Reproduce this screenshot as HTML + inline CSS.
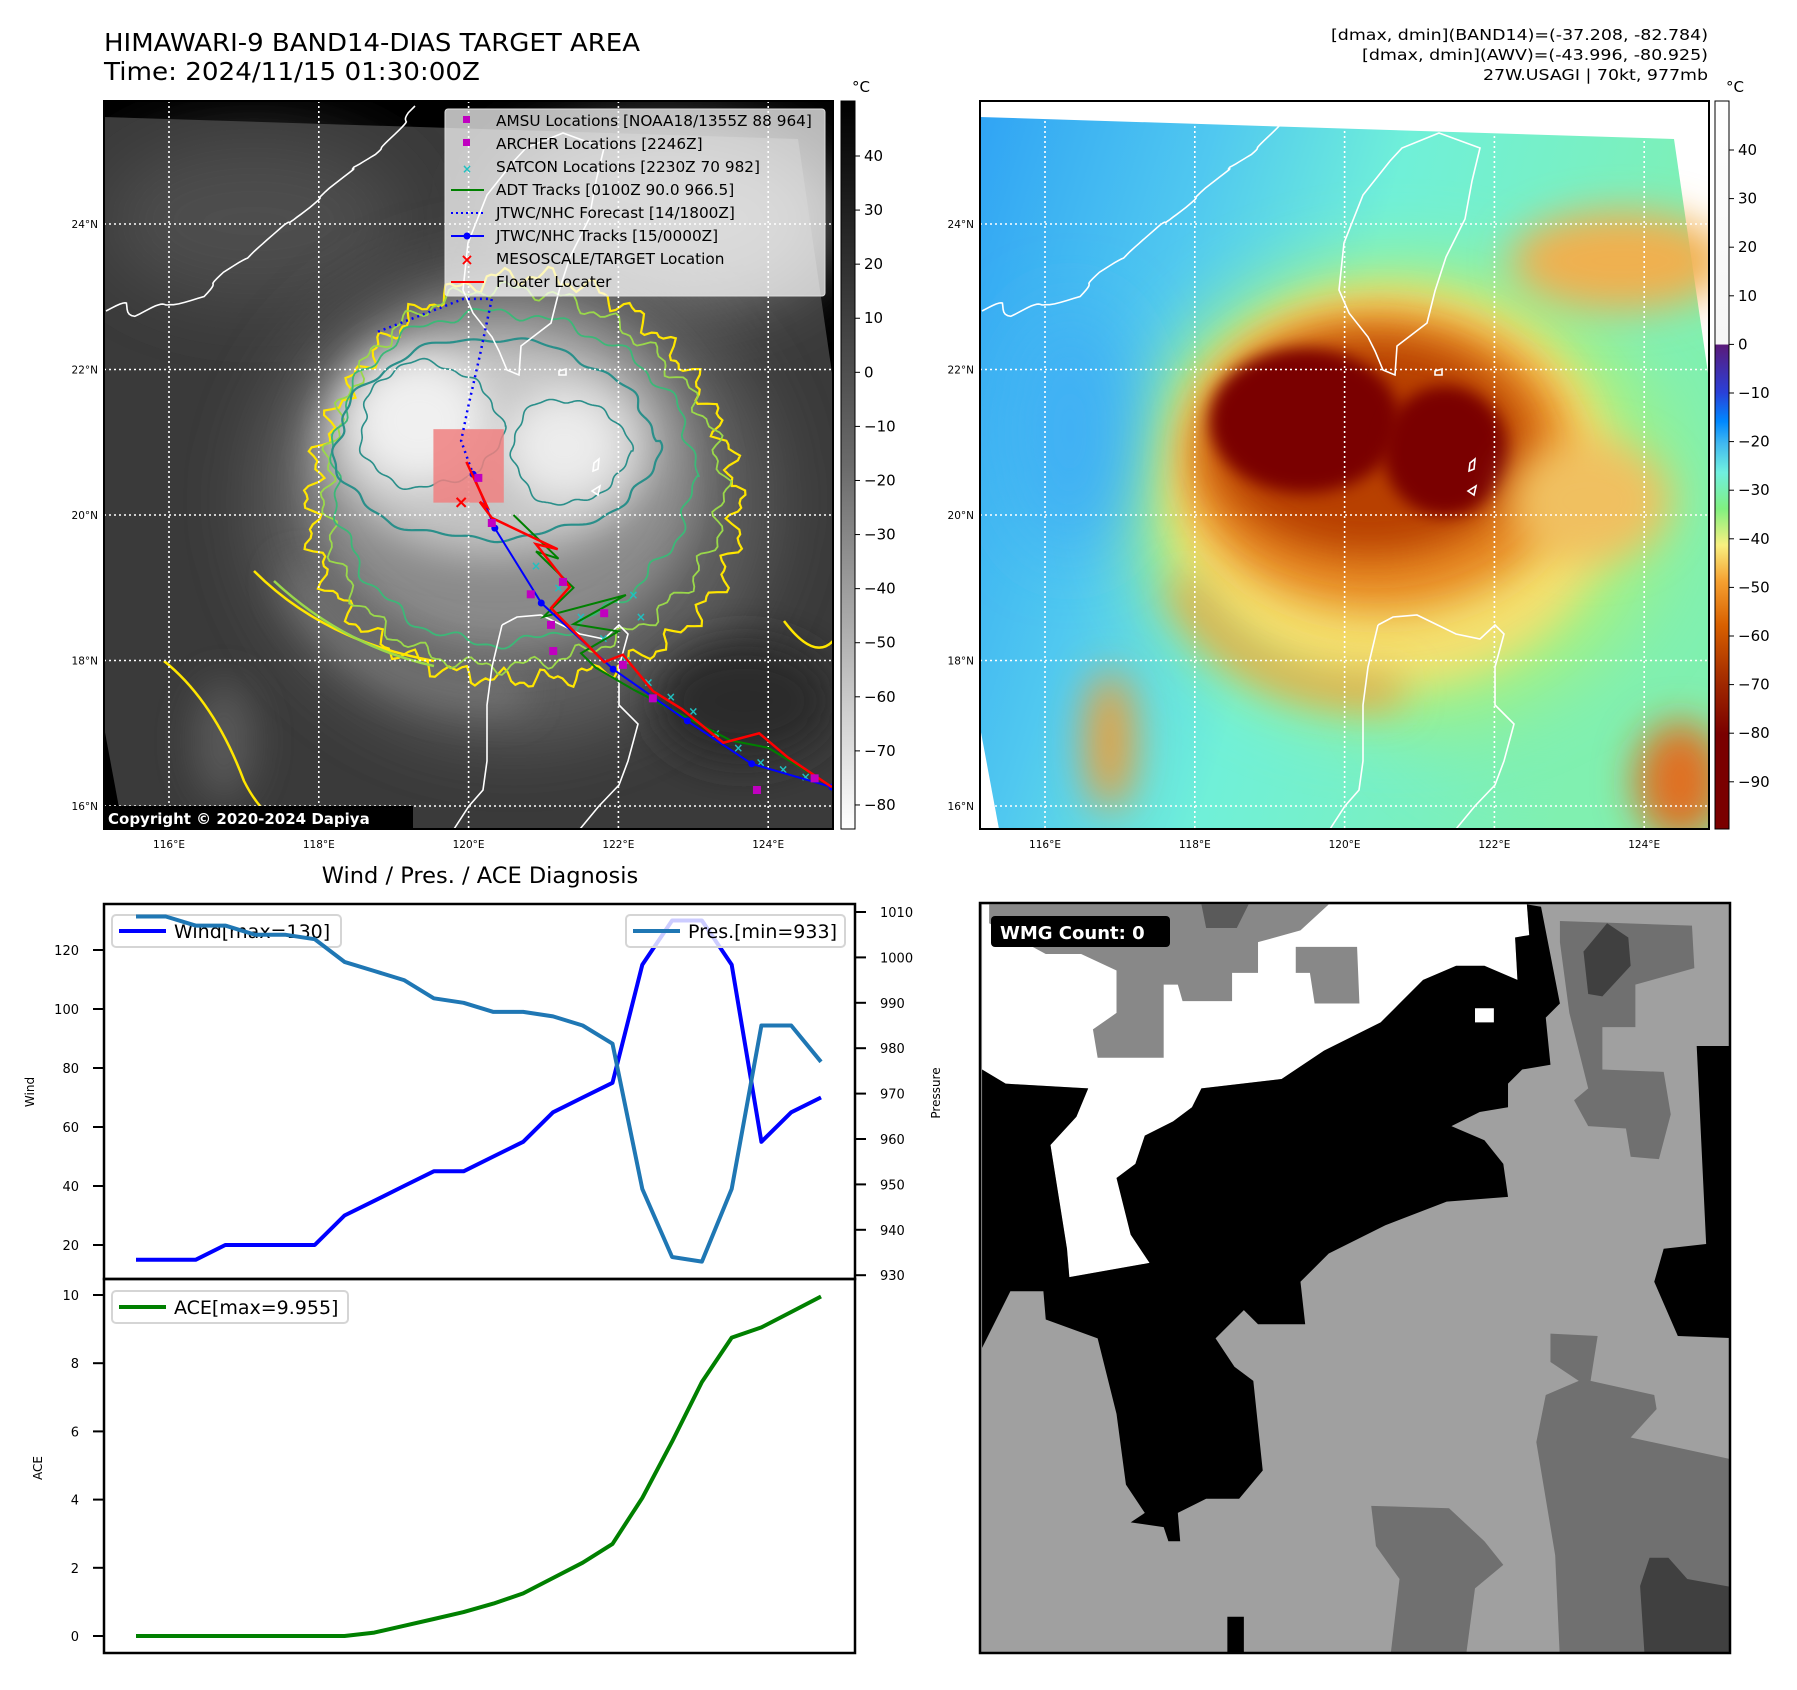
<!DOCTYPE html>
<html><head><meta charset="utf-8">
<style>
html,body{margin:0;padding:0;background:#fff;}
svg{display:block;font-family:"DejaVu Sans","Liberation Sans",sans-serif;}
</style></head>
<body>
<svg id="root" width="1797" height="1690" viewBox="0 0 1797 1690" xmlns="http://www.w3.org/2000/svg">
<defs>
  <clipPath id="clipMap"><rect x="0" y="0" width="729" height="728"/></clipPath>
  <clipPath id="clipWmg"><rect x="0" y="0" width="750" height="750"/></clipPath>
  <filter id="blur8" x="-100%" y="-100%" width="300%" height="300%"><feGaussianBlur stdDeviation="8"/></filter>
  <filter id="blur20" x="-100%" y="-100%" width="300%" height="300%"><feGaussianBlur stdDeviation="20"/></filter>
  <filter id="blur35" x="-100%" y="-100%" width="300%" height="300%"><feGaussianBlur stdDeviation="35"/></filter>
  <linearGradient id="cbGray" x1="0" y1="0" x2="0" y2="1">
    <stop offset="0" stop-color="#000"/><stop offset="0.5" stop-color="#6a6a6a"/><stop offset="1" stop-color="#fff"/>
  </linearGradient>
  <linearGradient id="cbColor" x1="0" y1="0" x2="0" y2="1">
    <stop offset="0" stop-color="#ffffff"/>
    <stop offset="0.334" stop-color="#f6f6f6"/>
    <stop offset="0.335" stop-color="#5a1a7a"/>
    <stop offset="0.40" stop-color="#2a40d8"/>
    <stop offset="0.44" stop-color="#0088ff"/>
    <stop offset="0.47" stop-color="#40b8f0"/>
    <stop offset="0.51" stop-color="#70f0e0"/>
    <stop offset="0.56" stop-color="#80f080"/>
    <stop offset="0.61" stop-color="#f8f080"/>
    <stop offset="0.66" stop-color="#f5a030"/>
    <stop offset="0.72" stop-color="#d86000"/>
    <stop offset="0.80" stop-color="#a02800"/>
    <stop offset="0.87" stop-color="#7a0000"/>
    <stop offset="1" stop-color="#7a0000"/>
  </linearGradient>
  <linearGradient id="seaGrad" x1="0" y1="0" x2="1" y2="0.3">
    <stop offset="0" stop-color="#30a4f4"/>
    <stop offset="0.3" stop-color="#50c8f0"/>
    <stop offset="0.55" stop-color="#70f0d8"/>
    <stop offset="1" stop-color="#80f0b0"/>
  </linearGradient>
</defs>

<text x="104" y="51" font-size="24.5" textLength="536" lengthAdjust="spacingAndGlyphs">HIMAWARI-9 BAND14-DIAS TARGET AREA</text>
<text x="104" y="80" font-size="24.5" textLength="376" lengthAdjust="spacingAndGlyphs">Time: 2024/11/15 01:30:00Z</text>
<g font-size="15.5" text-anchor="end">
  <text x="1708" y="40" textLength="377" lengthAdjust="spacingAndGlyphs">[dmax, dmin](BAND14)=(-37.208, -82.784)</text>
  <text x="1708" y="60" textLength="346" lengthAdjust="spacingAndGlyphs">[dmax, dmin](AWV)=(-43.996, -80.925)</text>
  <text x="1708" y="80" textLength="225" lengthAdjust="spacingAndGlyphs">27W.USAGI | 70kt, 977mb</text>
</g>

<!-- LEFT MAP -->
<g id="leftMap" transform="translate(104,101)">
  <g clip-path="url(#clipMap)">
    <rect x="0" y="0" width="729" height="728" fill="#000"/>
    <polygon points="0,16 694,38 728,272 729,728 19,728 0,626" fill="#3a3a3a"/>
    <g clip-path="url(#clipMap)">
      <ellipse cx="150" cy="120" rx="150" ry="80" fill="#4e4e4e" filter="url(#blur35)"/>
      <ellipse cx="560" cy="120" rx="170" ry="90" fill="#7a7a7a" filter="url(#blur35)"/>
      <ellipse cx="410" cy="400" rx="260" ry="240" fill="#5e5e5e" filter="url(#blur35)"/>
      <ellipse cx="400" cy="370" rx="200" ry="180" fill="#8a8a8a" filter="url(#blur20)"/>
      <ellipse cx="390" cy="345" rx="165" ry="110" fill="#c4c4c4" filter="url(#blur20)"/>
      <ellipse cx="315" cy="320" rx="70" ry="65" fill="#f0f0f0" filter="url(#blur20)"/>
      <ellipse cx="460" cy="345" rx="60" ry="55" fill="#ececec" filter="url(#blur20)"/>
      <path d="M190,470 Q260,600 420,590" stroke="#7a7a7a" stroke-width="30" fill="none" filter="url(#blur20)"/>
      <ellipse cx="640" cy="600" rx="90" ry="60" fill="#2a2a2a" filter="url(#blur20)"/>
      <ellipse cx="120" cy="640" rx="30" ry="60" fill="#5a5a5a" filter="url(#blur20)"/>
    </g>
    <g id="contours" fill="none"></g>
    <g id="coastL" fill="none" stroke="#fff" stroke-width="1.6"></g>
    <g id="gridL" stroke="#fff" stroke-width="1.6" stroke-dasharray="2,3"></g>
    <g id="tracks"></g>
  </g>
  <g>
    <rect x="341" y="8" width="380" height="187" rx="3" fill="#fff" fill-opacity="0.72" stroke="#ddd" stroke-width="1"/>
    <g font-size="15.3">
      <rect x="359" y="15" width="7" height="7" fill="#c000c0"/>
      <text x="392" y="25">AMSU Locations [NOAA18/1355Z 88 964]</text>
      <rect x="359" y="38" width="7" height="7" fill="#c000c0"/>
      <text x="392" y="48">ARCHER Locations [2246Z]</text>
      <text x="363" y="72" font-size="12" fill="#20c0c0" text-anchor="middle" font-weight="bold">×</text>
      <text x="392" y="71">SATCON Locations [2230Z 70 982]</text>
      <line x1="347" y1="89" x2="380" y2="89" stroke="#008000" stroke-width="2"/>
      <text x="392" y="94">ADT Tracks [0100Z 90.0 966.5]</text>
      <line x1="347" y1="112" x2="380" y2="112" stroke="#0000ff" stroke-width="2" stroke-dasharray="2,3"/>
      <text x="392" y="117">JTWC/NHC Forecast [14/1800Z]</text>
      <line x1="347" y1="135" x2="380" y2="135" stroke="#0000ff" stroke-width="2"/>
      <circle cx="363" cy="135" r="3.5" fill="#0000ff"/>
      <text x="392" y="140">JTWC/NHC Tracks [15/0000Z]</text>
      <text x="363" y="164" font-size="16" fill="#ff0000" text-anchor="middle" font-weight="bold">×</text>
      <text x="392" y="163">MESOSCALE/TARGET Location</text>
      <line x1="347" y1="181" x2="380" y2="181" stroke="#ff0000" stroke-width="2"/>
      <text x="392" y="186">Floater Locater</text>
    </g>
  </g>
  <rect x="0" y="705" width="309" height="23" fill="#000"/>
  <text x="4" y="723" font-size="15" font-weight="bold" fill="#fff">Copyright © 2020-2024 Dapiya</text>
  <rect x="0" y="0" width="729" height="728" fill="none" stroke="#000" stroke-width="2"/>
</g>
<g id="axLeft" font-size="10.5"></g>

<g>
  <rect x="841" y="101" width="14" height="728" fill="url(#cbGray)" stroke="#000" stroke-width="1"/>
  <text x="852" y="92" font-size="15">°C</text>
  <g id="cbTicksL" font-size="15"></g>
</g>

<!-- RIGHT MAP -->
<g id="rightMap" transform="translate(980,101)">
  <g clip-path="url(#clipMap)">
    <rect x="0" y="0" width="729" height="728" fill="#fff"/>
    <polygon points="0,16 694,38 728,272 729,728 19,728 0,626" fill="url(#seaGrad)"/>
    <g>
      <ellipse cx="560" cy="480" rx="170" ry="200" fill="#80f0b0" filter="url(#blur35)"/>
      <ellipse cx="420" cy="390" rx="270" ry="230" fill="#a8f080" filter="url(#blur35)"/>
      <ellipse cx="410" cy="385" rx="225" ry="200" fill="#f4e070" filter="url(#blur20)"/>
      <path d="M200,480 Q260,600 420,590" stroke="#e8a040" stroke-width="30" fill="none" filter="url(#blur20)"/>
      <ellipse cx="400" cy="360" rx="195" ry="150" fill="#e88a20" filter="url(#blur20)"/>
      <ellipse cx="390" cy="345" rx="160" ry="110" fill="#b84000" filter="url(#blur20)"/>
      <ellipse cx="325" cy="320" rx="95" ry="72" fill="#7a0000" filter="url(#blur8)"/>
      <ellipse cx="465" cy="350" rx="62" ry="65" fill="#7a0000" filter="url(#blur8)"/>
      <ellipse cx="640" cy="160" rx="110" ry="50" fill="#f0b050" filter="url(#blur20)"/>
      <ellipse cx="610" cy="400" rx="80" ry="60" fill="#f0c060" filter="url(#blur20)"/>
      <ellipse cx="700" cy="680" rx="45" ry="60" fill="#e07020" filter="url(#blur20)"/>
      <ellipse cx="130" cy="640" rx="25" ry="70" fill="#e8a040" filter="url(#blur20)"/>
      <ellipse cx="90" cy="330" rx="60" ry="120" fill="#40b0f4" filter="url(#blur35)"/>
    </g>
    <g id="coastR" fill="none" stroke="#fff" stroke-width="1.6"></g>
    <g id="gridR" stroke="#fff" stroke-width="1.6" stroke-dasharray="2,3"></g>
  </g>
  <rect x="0" y="0" width="729" height="728" fill="none" stroke="#000" stroke-width="2"/>
</g>
<g id="axRight" font-size="10.5"></g>

<g>
  <rect x="1715" y="101" width="14" height="728" fill="url(#cbColor)" stroke="#000" stroke-width="1"/>
  <text x="1726" y="92" font-size="15">°C</text>
  <g id="cbTicksR" font-size="15"></g>
</g>

<text x="480" y="883" font-size="22.5" text-anchor="middle">Wind / Pres. / ACE Diagnosis</text>
<g id="diag"></g>

<!-- WMG PANEL -->
<g transform="translate(980,903)">
  <g clip-path="url(#clipWmg)">
    <rect x="0" y="0" width="750" height="750" fill="#a0a0a0"/>
    <g transform="translate(-5,-8) scale(0.4717)">
      <polygon fill="#fff" points="15,20 1170,20 1175,85 1145,90 1150,180 950,180 890,240 860,270 740,330 650,390 480,410 460,450 420,480 360,510 340,570 300,600 330,720 370,780 200,810 195,750 160,530 215,470 240,410 65,400 15,370"/>
      <polygon fill="#888" points="30,20 750,20 690,75 600,100 600,165 545,165 545,225 440,225 430,190 400,190 400,345 260,345 250,285 300,250 300,160 225,125 150,125 30,60"/>
      <polygon fill="#888" points="680,110 810,110 815,230 720,230 710,165 680,165"/>
      <polygon fill="#5a5a5a" points="480,20 580,20 555,70 490,70"/>
      <polygon fill="#000" points="15,370 65,400 240,410 215,470 160,530 195,750 200,810 370,780 330,720 300,600 340,570 360,510 420,480 460,450 480,410 650,390 740,330 860,270 890,240 950,180 1020,150 1080,150 1150,180 1145,90 1175,85 1170,20 1200,25 1240,230 1210,260 1220,360 1160,370 1130,400 1130,450 1070,460 1010,490 1080,520 1120,570 1130,640 1000,650 870,700 810,730 750,760 690,820 700,910 600,910 570,880 510,940 550,1000 590,1030 610,1220 560,1280 490,1280 430,1310 435,1370 410,1370 400,1340 330,1330 360,1310 320,1250 300,1100 260,940 150,900 145,840 75,840 15,960"/>
      <polygon fill="#fff" points="1060,240 1100,240 1100,270 1060,270"/>
      <polygon fill="#000" points="1530,320 1620,320 1620,940 1490,935 1440,820 1460,750 1550,740"/>
      <polygon fill="#707070" points="1240,55 1520,65 1525,155 1400,190 1400,280 1330,280 1330,370 1460,375 1475,465 1450,560 1390,555 1380,495 1300,490 1270,435 1300,410 1260,250 1240,100"/>
      <polygon fill="#404040" points="1290,120 1340,60 1385,90 1390,150 1330,215 1300,210"/>
      <polygon fill="#707070" points="1220,930 1320,935 1305,1030 1440,1060 1445,1090 1390,1150 1620,1200 1620,1620 1240,1620 1230,1400 1190,1160 1210,1060 1280,1030 1220,990"/>
      <polygon fill="#707070" points="840,1295 1005,1300 1080,1370 1120,1420 1060,1470 1040,1620 880,1620 900,1450 850,1380"/>
      <polygon fill="#404040" points="1430,1405 1470,1405 1510,1450 1620,1470 1620,1620 1420,1620 1410,1465"/>
      <polygon fill="#000" points="535,1530 570,1530 570,1620 535,1620"/>
    </g>
  </g>
  <rect x="0" y="0" width="750" height="750" fill="none" stroke="#000" stroke-width="2.5"/>
  <rect x="11" y="13" width="179" height="31" rx="4" fill="#000"/>
  <text x="20" y="36" font-size="18" font-weight="bold" fill="#fff">WMG Count: 0</text>
</g>
</svg>

<script>
// ---------- Diagnosis chart data ----------
const wind = [15,15,15,20,20,20,20,30,35,40,45,45,50,55,65,70,75,115,130,130,115,55,65,70];
const pres = [1009,1009,1007,1007,1005,1005,1004,999,997,995,991,990,988,988,987,985,981,949,934,933,949,985,985,977];
const ace = [0,0,0,0,0,0,0,0,0.1,0.3,0.5,0.7,0.95,1.25,1.7,2.15,2.7,4.05,5.7,7.45,8.75,9.05,9.5,9.955];
const windTicks = [20,40,60,80,100,120];
const presTicks = [930,940,950,960,970,980,990,1000,1010];
const aceTicks = [0,2,4,6,8,10];
const irCbTicks = [40,30,20,10,0,-10,-20,-30,-40,-50,-60,-70,-80];
const awvCbTicks = [40,30,20,10,0,-10,-20,-30,-40,-50,-60,-70,-80,-90];
const lonTicks = [116,118,120,122,124];
const latTicks = [24,22,20,18,16];

// ---------- Map track data (lon, lat) ----------
const fcLon = [118.79,119.93,120.31,120.15,119.99,119.90,120.06];
const fcLat = [22.52,22.97,22.97,22.19,21.47,21.02,20.56];
const jtLon = [120.06,120.35,120.97,121.93,122.92,123.78,124.85];
const jtLat = [20.56,19.82,18.79,17.88,17.17,16.58,16.26];
const flLon = [119.97,120.25,120.15,120.31,121.19,120.90,121.35,121.10,121.81,122.06,122.46,122.85,123.40,123.88,124.26,124.85];
const flLat = [20.73,20.11,20.18,19.96,19.53,19.60,19.01,18.72,17.98,18.08,17.58,17.33,16.87,17.00,16.67,16.26];
const adtLon = [120.6,121.2,120.9,121.4,121.0,122.1,121.4,122.0,121.5,121.7,122.2,123.5,124.0,124.8];
const adtLat = [20.0,19.4,19.5,19.0,18.6,18.9,18.5,18.4,18.1,17.9,17.6,16.9,16.8,16.3];
const sqLon = [120.13,120.31,120.83,121.10,121.13,121.81,122.06,122.46,123.85,124.62,121.26];
const sqLat = [20.51,19.89,18.91,18.49,18.13,18.65,17.94,17.48,16.22,16.38,19.08];
const satLon = [120.9,121.2,121.5,121.8,122.1,122.4,122.7,123.0,123.3,123.6,123.9,124.2,124.5,122.2,122.3];
const satLat = [19.3,19.0,18.6,18.3,18.0,17.7,17.5,17.3,17.0,16.8,16.6,16.5,16.4,18.9,18.6];
const tgtLon = [119.90], tgtLat = [20.18];

const NS = "http://www.w3.org/2000/svg";
function mk(tag, attrs, parent){ const e=document.createElementNS(NS,tag); for(const k in attrs) e.setAttribute(k,attrs[k]); if(parent) parent.appendChild(e); return e; }

const mapX = lon => 65 + (lon-116)*74.9;
const mapY = lat => 123 + (24-lat)*72.75;

[["gridL","axLeft",104],["gridR","axRight",980]].forEach(([gid,aid,ox])=>{
  const g=document.getElementById(gid), a=document.getElementById(aid);
  lonTicks.forEach(l=>{ const x=mapX(l);
    const ln=mk("line",{x1:x,y1:0,x2:x,y2:728},g);
    
    
    const t=mk("text",{x:ox+x,y:848,"text-anchor":"middle"},a); t.textContent=l+"°E";
    
    
  });
  latTicks.forEach(l=>{ const y=mapY(l);
    const ln=mk("line",{x1:0,y1:y,x2:729,y2:y},g);
    
    
    const t=mk("text",{x:ox-6,y:101+y+4,"text-anchor":"end"},a); t.textContent=l+"°N";
    
    
  });
});

function wig(pts, amp){
  let d="";
  for(let i=0;i<pts.length-1;i++){
    const a=pts[i], b=pts[i+1];
    for(let k=0;k<6;k++){ const t=k/6; const x=a[0]+(b[0]-a[0])*t, y=a[1]+(b[1]-a[1])*t;
      const o=amp*Math.sin((i*6+k)*2.7)*(k%2?1:-1);
      d+=(d?"L":"M")+(x+o).toFixed(1)+","+(y-o*0.8).toFixed(1);} }
  const l=pts[pts.length-1]; return d+"L"+l[0]+","+l[1];
}
const china=[[2,210],[20,204],[35,212],[49,208],[70,200],[97,198],[110,182],[121,170],[140,160],[160,142],[175,128],[190,118],[204,108],[215,98],[228,85],[245,72],[255,62],[267,57],[280,45],[291,33],[300,22],[311,5]];
const coastPaths = [
 wig(china,5),
 "M459,32 L500,47 L492,80 L485,118 L466,156 L455,190 L447,222 L417,245 L415,274 L403,269 L395,250 L388,236 L369,212 L359,189 L364,142 L383,94 L410,60 L422,47 Z",
 "M398,524 L413,516 L437,514 L476,533 L500,538 L515,524 L524,533 L515,566 L515,604 L534,623 L524,660 L515,684 L495,705 L476,728",
 "M398,524 L388,566 L383,604 L383,660 L379,689 L365,705 L350,728",
 "M455,270 L462,268 L462,274 L455,274 Z",
 "M490,362 L495,358 L494,368 L489,370 Z", "M488,390 L496,385 L494,394 Z"
];
["coastL","coastR"].forEach(id=>{ const g=document.getElementById(id);
  coastPaths.forEach(d=>{ const p=mk("path",{d:d},g);
    
     });
});

function wobble(cx,cy,rx,ry,amp,freq,phase){
  let d=""; const n=300;
  for(let i=0;i<=n;i++){ const t=i/n*Math.PI*2;
    const r=1+amp*(Math.sin(t*freq+phase)*0.5+Math.sin(t*(freq*2.3)+phase*1.7)*0.3+Math.sin(t*3+phase)*0.6);
    const x=cx+rx*r*Math.cos(t), y=cy+ry*r*Math.sin(t);
    d+=(i?"L":"M")+x.toFixed(1)+","+y.toFixed(1);
  } return d+"Z";
}
const cg=document.getElementById("contours");
[[420,385,212,202,0.07,29,0,"#ffe600",2.2],[415,380,198,188,0.06,23,1,"#9ad84a",1.8],
 [405,375,180,165,0.05,15,2,"#3cb878",1.8],[390,340,160,100,0.05,9,0.5,"#2a8f8a",2.2],
 [325,325,70,62,0.08,7,1,"#2a8f8a",1.6],[465,350,58,52,0.08,6,2,"#2a8f8a",1.6]].forEach(c=>{
  const p=mk("path",{d:wobble(c[0],c[1],c[2],c[3],c[4],c[5],c[6]),stroke:c[7],"stroke-width":c[8]},cg);
  
  
});
[["M60,560 Q110,600 140,680 Q160,720 190,728","#ffe600"],["M150,470 Q220,540 330,560","#ffe600"],["M170,480 Q240,545 330,565","#9ad84a"],
 ["M680,520 Q710,560 729,540","#ffe600"]].forEach(c=>{
  const p=mk("path",{d:c[0],stroke:c[1],"stroke-width":2.5},cg);
  
  
});

const tg=document.getElementById("tracks");
function pts(lons,lats){ return lons.map((l,i)=>mapX(l).toFixed(1)+","+mapY(lats[i]).toFixed(1)).join(" "); }
let e;
e=mk("rect",{x:mapX(119.53),y:mapY(21.18),width:mapX(120.47)-mapX(119.53),height:mapY(20.17)-mapY(21.18),fill:"#f08080","fill-opacity":0.85},tg);


satLon.forEach((l,i)=>{ const t=mk("text",{x:mapX(l),y:mapY(satLat[i])+4,"font-size":12,"font-weight":"bold",fill:"#20c0c0","text-anchor":"middle"},tg); t.textContent="×";
  
   });
e=mk("polyline",{points:pts(adtLon,adtLat),fill:"none",stroke:"#008000","stroke-width":2},tg);


e=mk("polyline",{points:pts(fcLon,fcLat),fill:"none",stroke:"#0000ff","stroke-width":2.5,"stroke-dasharray":"2,4"},tg);


e=mk("polyline",{points:pts(jtLon,jtLat),fill:"none",stroke:"#0000ff","stroke-width":2},tg);


jtLon.forEach((l,i)=>{ const c=mk("circle",{cx:mapX(l),cy:mapY(jtLat[i]),r:3.5,fill:"#0000ff"},tg);
  
   });
e=mk("polyline",{points:pts(flLon,flLat),fill:"none",stroke:"#ff0000","stroke-width":2.5},tg);


sqLon.forEach((l,i)=>{ const r=mk("rect",{x:mapX(l)-4,y:mapY(sqLat[i])-4,width:8,height:8,fill:"#c000c0"},tg);
  
   });
tgtLon.forEach((l,i)=>{ const t=mk("text",{x:mapX(l),y:mapY(tgtLat[i])+6,"font-size":18,"font-weight":"bold",fill:"#ff0000","text-anchor":"middle"},tg); t.textContent="×";
  
   });

const cbYL = v => 156 + (40-v)*5.408;
const cbYR = v => 150 + (40-v)*4.86;
const ctl=document.getElementById("cbTicksL");
irCbTicks.forEach(v=>{ const y=cbYL(v);
  mk("line",{x1:855,y1:y,x2:860,y2:y,stroke:"#000","stroke-width":1},ctl);
  const t=mk("text",{x:864,y:y+5},ctl); t.textContent=(v<0?"\u2212"+(-v):v);
  
   });
const ctr=document.getElementById("cbTicksR");
awvCbTicks.forEach(v=>{ const y=cbYR(v);
  mk("line",{x1:1729,y1:y,x2:1734,y2:y,stroke:"#000","stroke-width":1},ctr);
  const t=mk("text",{x:1738,y:y+5},ctr); t.textContent=(v<0?"\u2212"+(-v):v);
  
   });

// ---------- Diagnosis chart ----------
const dg=document.getElementById("diag");
const X = i => 136 + i*(821-136)/(wind.length-1);
const yWind = v => 950 + (120-v)*2.95;
const yPres = v => 912 + (1010-v)*4.54;
const yAce = v => 1636 + (0-v)*34.1;
function line(arr, yf, color, name){
  const p=mk("polyline",{points:arr.map((v,i)=>X(i).toFixed(1)+","+yf(v).toFixed(1)).join(" "),fill:"none",stroke:color,"stroke-width":4,"stroke-linejoin":"round"},dg);
  
  
}
function legend(x,y,w,color,label,name){
  const g=mk("g",{},dg);
  
  
  mk("rect",{x:x,y:y,width:w,height:32,rx:4,fill:"#fff","fill-opacity":0.8,stroke:"#d5d5d5","stroke-width":2},g);
  mk("line",{x1:x+7,y1:y+16,x2:x+54,y2:y+16,stroke:color,"stroke-width":4},g);
  const t=mk("text",{x:x+62,y:y+23,"font-size":19},g); t.textContent=label;
}
mk("rect",{x:104,y:904,width:751,height:375,fill:"#fff"},dg);
mk("rect",{x:104,y:1279,width:751,height:374,fill:"#fff"},dg);
line(wind,yWind,"#0000ff","wind-line");
legend(112,915,229,"#0000ff","Wind[max=130]","wind-legend");
line(pres,yPres,"#1f77b4","pressure-line");
legend(626,915,219,"#1f77b4","Pres.[min=933]","pressure-legend");
line(ace,yAce,"#008000","ace-line");
legend(112,1291,236,"#008000","ACE[max=9.955]","ace-legend");
mk("rect",{x:104,y:904,width:751,height:375,fill:"none",stroke:"#000","stroke-width":2.5},dg);
mk("rect",{x:104,y:1279,width:751,height:374,fill:"none",stroke:"#000","stroke-width":2.5},dg);
windTicks.forEach(v=>{ const y=yWind(v);
  mk("line",{x1:93,y1:y,x2:104,y2:y,stroke:"#000","stroke-width":2},dg);
  const t=mk("text",{x:79,y:y+5,"font-size":13,"text-anchor":"end"},dg); t.textContent=v;
  
   });
presTicks.forEach(v=>{ const y=yPres(v);
  mk("line",{x1:855,y1:y,x2:866,y2:y,stroke:"#000","stroke-width":2},dg);
  const t=mk("text",{x:880,y:y+5,"font-size":13},dg); t.textContent=v;
  
   });
aceTicks.forEach(v=>{ const y=yAce(v);
  mk("line",{x1:93,y1:y,x2:104,y2:y,stroke:"#000","stroke-width":2},dg);
  const t=mk("text",{x:79,y:y+5,"font-size":13,"text-anchor":"end"},dg); t.textContent=v;
  
   });
[["Wind",34,1092,"wind-axis-title"],["Pressure",940,1093,"pressure-axis-title"],["ACE",42,1468,"ace-axis-title"]].forEach(a=>{
  const t=mk("text",{x:a[1],y:a[2],"font-size":12,"text-anchor":"middle",transform:"rotate(-90 "+a[1]+" "+a[2]+")"},dg);
  t.textContent=a[0];
  
  
});
</script>
</body></html>
